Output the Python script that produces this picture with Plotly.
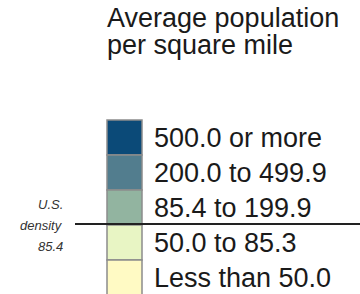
import plotly.graph_objects as go

title_lines = ["Average population", "per square mile"]
categories = ["500.0 or more", "200.0 to 499.9", "85.4 to 199.9", "50.0 to 85.3", "Less than 50.0"]
colors = ["#0b4a78", "#527d8e", "#92b4a0", "#e8f5c4", "#fffac4"]
us_density_label = ["U.S.", "density", "85.4"]
split_index = 3  # national density line falls between rows 3 and 4

W, H = 360, 294
box_left, box_w = 107, 35
top0, row_h = 120, 35
font = "Liberation Sans, Arial, sans-serif"

fig = go.Figure()
tops = [top0 + i * row_h for i in range(len(categories))]
fig.add_trace(go.Bar(
    x=[box_left + box_w / 2] * len(categories),
    y=[row_h] * len(categories),
    base=tops,
    width=box_w,
    marker=dict(color=colors, line=dict(color="#8c8c8c", width=1.5)),
    hoverinfo="skip",
    showlegend=False,
))

for i, lab in enumerate(categories):
    fig.add_annotation(x=152, y=tops[i] + row_h / 2 + 0.5, text=lab, showarrow=False,
                       xanchor="left", yanchor="middle",
                       font=dict(family=font, size=27, color="#1a1a1a"))

for j, t in enumerate(title_lines):
    fig.add_annotation(x=105, y=18 + j * 26.5, text=t, showarrow=False,
                       xanchor="left", yanchor="middle",
                       font=dict(family=font, size=27, color="#1a1a1a"))

ys = [204, 225, 246]
for t, yy in zip(us_density_label, ys):
    fig.add_annotation(x=65, y=yy, text="<i>" + t + "</i>", showarrow=False,
                       xanchor="right", yanchor="middle",
                       font=dict(family=font, size=13, color="#333333"))

line_y = tops[split_index] - 1
fig.add_shape(type="line", x0=75, x1=360, y0=line_y, y1=line_y,
              line=dict(color="#222222", width=2))

fig.update_layout(
    width=W, height=H, margin=dict(l=0, r=0, t=0, b=0),
    paper_bgcolor="white", plot_bgcolor="white",
    xaxis=dict(range=[0, W], visible=False, fixedrange=True),
    yaxis=dict(range=[H, 0], visible=False, fixedrange=True),
    bargap=0,
)
fig.write_html("out.html", config={"displayModeBar": False, "staticPlot": True},
               post_script="document.body.style.margin='0px';document.body.style.overflow='hidden';")
